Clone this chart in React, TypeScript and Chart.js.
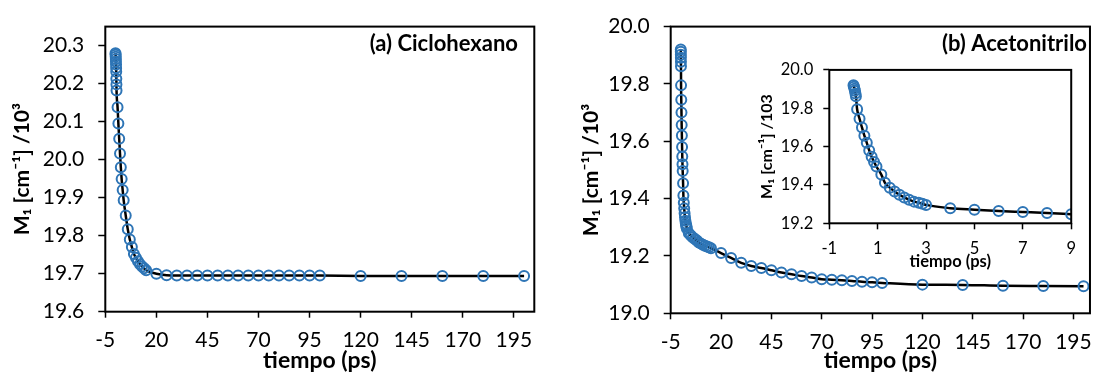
import React, { useEffect, useRef } from "react";
import { Chart, registerables } from "chart.js";

Chart.register(...registerables);

const FONT = "Lato, 'DejaVu Sans', sans-serif";
const POINT_COLOR = "#2E75B6";

// ---- Data: (a) Ciclohexano ----
const cycloTime = [
  0, 0.05, 0.1, 0.15, 0.2, 0.25, 0.3, 0.35, 0.4, 0.45, 0.5,
  1.0, 1.4, 1.8, 2.2, 2.6, 3.0, 3.5, 4, 5, 6, 7, 8,
  9, 10, 11, 12, 13, 14, 15,
  20, 25, 30, 35, 40, 45, 50, 55, 60, 65, 70, 75, 80, 85, 90, 95, 100,
  120, 140, 160, 180, 200,
];
const cycloM1 = [
  20.280, 20.276, 20.271, 20.265, 20.258, 20.250, 20.241, 20.231, 20.213, 20.198, 20.182,
  20.138, 20.095, 20.055, 20.016, 19.980, 19.949, 19.920, 19.893, 19.853, 19.817, 19.790, 19.770,
  19.752, 19.742, 19.733, 19.725, 19.719, 19.714, 19.709,
  19.700, 19.696, 19.695, 19.695, 19.695, 19.695, 19.695, 19.695, 19.695, 19.695, 19.695, 19.695, 19.695, 19.695, 19.695, 19.695, 19.695,
  19.694, 19.694, 19.694, 19.694, 19.694,
];

// ---- Data: (b) Acetonitrilo ----
const acetoTime = [
  0, 0.02, 0.04, 0.06, 0.08, 0.1,
  0.15, 0.25, 0.35, 0.45, 0.55, 0.65, 0.75, 0.85, 0.95, 1.15, 1.3, 1.5, 1.7, 1.9, 2.1, 2.3, 2.5, 2.7, 2.85, 3.0,
  4, 5, 6, 7, 8, 9, 10, 11, 12, 13, 14, 15,
  20, 25, 30, 35, 40, 45, 50, 55, 60, 65, 70, 75, 80, 85, 90, 95, 100,
  120, 140, 160, 180, 200,
];
const acetoM1 = [
  19.920, 19.912, 19.902, 19.891, 19.877, 19.862,
  19.795, 19.745, 19.700, 19.657, 19.620, 19.580, 19.547, 19.520, 19.496, 19.454, 19.411, 19.386, 19.366, 19.349, 19.335, 19.323, 19.313, 19.307, 19.302, 19.296,
  19.279, 19.271, 19.264, 19.259, 19.254, 19.247, 19.243, 19.239, 19.236, 19.233, 19.230, 19.227,
  19.210, 19.193, 19.176, 19.165, 19.158, 19.150, 19.142, 19.136, 19.130, 19.125, 19.119, 19.117, 19.115, 19.113, 19.110, 19.108, 19.106,
  19.100, 19.099, 19.096, 19.095, 19.094,
];

// ---- Ticks ----
const mainXTicks = [-5, 20, 45, 70, 95, 120, 145, 170, 195];
const cycloYTicks = [19.6, 19.7, 19.8, 19.9, 20.0, 20.1, 20.2, 20.3];
const acetoYTicks = [19.0, 19.2, 19.4, 19.6, 19.8, 20.0];
const insetXTicks = [-1, 1, 3, 5, 7, 9];
const insetYTicks = [19.2, 19.4, 19.6, 19.8, 20.0];

const framePlugin = {
  id: "frame",
  afterDraw(chart: any, _args: any, opts: any) {
    const { ctx, chartArea } = chart;
    const { left, top, right, bottom } = chartArea;
    ctx.save();
    ctx.strokeStyle = "#000";
    ctx.lineWidth = 2;
    ctx.strokeRect(left, top, right - left, bottom - top);
    if (opts && opts.label) {
      ctx.font = `bold ${opts.size}px ${FONT}`;
      ctx.fillStyle = "#000";
      ctx.textAlign = "right";
      ctx.textBaseline = "alphabetic";
      ctx.fillText(opts.label, opts.x, opts.y);
    }
    ctx.restore();
  },
};

type Panel = {
  time: number[];
  vals: number[];
  xMin: number;
  xMax: number;
  yMin: number;
  yMax: number;
  xTicks: number[];
  yTicks: number[];
  pad: { left: number; top: number; right: number };
  yAxisW: number;
  xAxisH: number;
  tickSize: number;
  titleSize: number;
  yTitleSize: number;
  yTitle: string;
  xTickPad: number;
  yTickPad: number;
  yTickLen: number;
  xTickLen: number;
  xTitlePadBottom: number;
  label?: { text: string; x: number; y: number; size: number };
  xMaxFilter?: number;
};

function buildConfig(p: Panel): any {
  const pts = p.time
    .map((t, i) => ({ x: t, y: p.vals[i] }))
    .filter((d) => (p.xMaxFilter === undefined ? true : d.x <= p.xMaxFilter));
  return {
    type: "scatter",
    data: {
      datasets: [
        {
          data: pts,
          showLine: false,
          pointStyle: "circle",
          pointRadius: 5,
          pointBorderWidth: 2,
          pointBorderColor: POINT_COLOR,
          pointBackgroundColor: "rgba(0,0,0,0)",
          borderColor: POINT_COLOR,
          backgroundColor: "rgba(0,0,0,0)",
        },
        {
          data: pts,
          showLine: true,
          borderColor: "#000",
          borderWidth: 2.5,
          pointRadius: 0,
          cubicInterpolationMode: "monotone",
          fill: false,
        },
      ],
    },
    options: {
      responsive: false,
      animation: false,
      events: [],
      layout: { padding: { left: p.pad.left, top: p.pad.top, right: p.pad.right, bottom: 0 } },
      plugins: {
        legend: { display: false },
        tooltip: { enabled: false },
        frame: p.label
          ? { label: p.label.text, x: p.label.x, y: p.label.y, size: p.label.size }
          : {},
      },
      scales: {
        x: {
          type: "linear",
          min: p.xMin,
          max: p.xMax,
          afterBuildTicks: (s: any) => {
            s.ticks = p.xTicks.map((v) => ({ value: v }));
          },
          afterFit: (s: any) => {
            s.height = p.xAxisH;
          },
          grid: {
            display: true,
            drawOnChartArea: false,
            drawTicks: true,
            tickLength: p.xTickLen,
            tickColor: "#000",
            tickWidth: 1.5,
            color: "#000",
          },
          border: { display: false },
          ticks: {
            autoSkip: false,
            maxRotation: 0,
            padding: p.xTickPad,
            color: "#000",
            font: { family: FONT, size: p.tickSize },
            callback: (v: any) => String(v),
          },
          title: {
            display: true,
            text: "tiempo (ps)",
            color: "#000",
            font: { family: FONT, size: p.titleSize, weight: "bold" },
            padding: { top: 0, bottom: p.xTitlePadBottom },
          },
        },
        y: {
          type: "linear",
          min: p.yMin,
          max: p.yMax,
          afterBuildTicks: (s: any) => {
            s.ticks = p.yTicks.map((v) => ({ value: v }));
          },
          afterFit: (s: any) => {
            s.width = p.yAxisW;
          },
          grid: {
            display: true,
            drawOnChartArea: false,
            drawTicks: true,
            tickLength: p.yTickLen,
            tickColor: "#000",
            tickWidth: 1.5,
            color: "#000",
          },
          border: { display: false },
          ticks: {
            autoSkip: false,
            padding: p.yTickPad,
            color: "#000",
            font: { family: FONT, size: p.tickSize },
            callback: (v: any) => Number(v).toFixed(1),
          },
          title: {
            display: true,
            text: p.yTitle,
            color: "#000",
            font: { family: FONT, size: p.yTitleSize, weight: "bold" },
            padding: { top: 0, bottom: 0 },
          },
        },
      },
    },
    plugins: [framePlugin],
  };
}

const leftPanel: Panel = {
  time: cycloTime,
  vals: cycloM1,
  xMin: -5,
  xMax: 205,
  yMin: 19.6,
  yMax: 20.35,
  xTicks: mainXTicks,
  yTicks: cycloYTicks,
  pad: { left: 10, top: 20, right: 10.7 },
  yAxisW: 95.3,
  xAxisH: 65.3,
  tickSize: 21,
  titleSize: 23,
  yTitleSize: 21,
  yTitle: "M₁ [cm⁻¹] /10³",
  xTickPad: 10,
  yTickPad: 14,
  yTickLen: 7,
  xTickLen: 6,
  xTitlePadBottom: 3,
  label: { text: "(a) Ciclohexano", x: 518, y: 51, size: 22 },
};

const rightPanel: Panel = {
  time: acetoTime,
  vals: acetoM1,
  xMin: -5,
  xMax: 203.2,
  yMin: 19.0,
  yMax: 20.0,
  xTicks: mainXTicks,
  yTicks: acetoYTicks,
  pad: { left: 29, top: 20, right: 3 },
  yAxisW: 91.7,
  xAxisH: 63.7,
  tickSize: 21,
  titleSize: 23,
  yTitleSize: 21,
  yTitle: "M₁ [cm⁻¹] /10³",
  xTickPad: 10,
  yTickPad: 14,
  yTickLen: 7,
  xTickLen: 6,
  xTitlePadBottom: 3,
  label: { text: "(b) Acetonitrilo", x: 1087 - 550, y: 51, size: 22 },
};

const insetPanel: Panel = {
  time: acetoTime,
  vals: acetoM1,
  xMin: -1,
  xMax: 9,
  yMin: 19.2,
  yMax: 20.0,
  xTicks: insetXTicks,
  yTicks: insetYTicks,
  pad: { left: 2.5, top: 15.7, right: 6.7 },
  yAxisW: 71.8,
  xAxisH: 51.7,
  tickSize: 16.5,
  titleSize: 16.5,
  yTitleSize: 16,
  yTitle: "M₁ [cm⁻¹] /103",
  xTickPad: 9,
  yTickPad: 10,
  yTickLen: 6,
  xTickLen: 6,
  xTitlePadBottom: 3.5,
  xMaxFilter: 9,
};

function ChartCanvas(props: { panel: Panel; left: number; top: number; width: number; height: number; z: number }) {
  const ref = useRef<HTMLCanvasElement | null>(null);
  useEffect(() => {
    if (!ref.current) return;
    const chart = new Chart(ref.current, buildConfig(props.panel));
    return () => chart.destroy();
  }, []);
  return (
    <canvas
      ref={ref}
      width={props.width}
      height={props.height}
      style={{
        position: "absolute",
        left: props.left,
        top: props.top,
        width: props.width,
        height: props.height,
        zIndex: props.z,
      }}
    />
  );
}

export default function App() {
  return (
    <div
      style={{
        position: "absolute",
        left: 0,
        top: 0,
        width: 1102,
        height: 377,
        background: "#fff",
        overflow: "hidden",
      }}
    >
      <ChartCanvas panel={leftPanel} left={0} top={0} width={545} height={377} z={1} />
      <ChartCanvas panel={rightPanel} left={550} top={0} width={552} height={377} z={1} />
      <ChartCanvas panel={insetPanel} left={755} top={50} width={330} height={225} z={2} />
    </div>
  );
}
